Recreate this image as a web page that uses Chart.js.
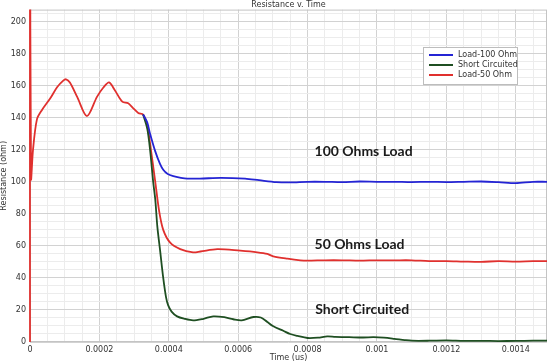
<!DOCTYPE html>
<html lang="en">
<head>
    <meta charset="UTF-8">
    <title>Resistance v. Time</title>
    <script src="https://cdn.jsdelivr.net/npm/chart.js"></script>
    <style>
        html, body { margin: 0; padding: 0; background: #fff; }
        #wrap { width: 551px; height: 364px; }
    </style>
</head>
<body>
    <div id="wrap"><canvas id="resChart" width="551" height="364"></canvas></div>

    <script>
        // Series (time in us, resistance in ohm)
        const redTime = [0, 0, 0.000003, 0.0000087, 0.00002, 0.000035, 0.000058, 0.000078, 0.000095, 0.000104, 0.000115,
            0.000136, 0.000164, 0.000193, 0.000212, 0.000228, 0.000245, 0.000266, 0.000283, 0.000297, 0.000312, 0.000326,
            0.000338, 0.000346, 0.000361, 0.000372, 0.000384, 0.000404, 0.000433, 0.00047, 0.000491, 0.00054, 0.000606,
            0.000655, 0.000684, 0.000701, 0.000742, 0.000779, 0.0008, 0.00085, 0.0009, 0.00095, 0.001, 0.00105, 0.0011,
            0.00115, 0.0012, 0.00125, 0.0013, 0.00135, 0.0014, 0.00145, 0.00149];
        const redOhm = [0, 300, 102, 120, 139, 145, 152, 159, 163, 164, 162,
            153, 141, 153, 159, 162, 157, 150, 149, 146, 143, 142,
            135, 124, 100, 82, 70, 62, 58, 56, 56.5, 58, 57,
            56, 55, 53.5, 52, 51, 50.8, 51, 51, 50.8, 51, 51, 51,
            50.5, 50.5, 50.2, 50, 50.5, 50.2, 50.5, 50.5];

        const blueTime = [0.000326, 0.000338, 0.000346, 0.000361, 0.000375, 0.000384, 0.000396, 0.000413, 0.000435,
            0.000453, 0.00049, 0.00055, 0.00062, 0.00066, 0.00071, 0.00075, 0.0008, 0.00085, 0.0009, 0.00095, 0.001,
            0.00105, 0.0011, 0.00115, 0.0012, 0.00125, 0.0013, 0.00135, 0.0014, 0.00145, 0.00149];
        const blueOhm = [142, 137, 130, 119, 111, 107.5, 105, 103.5, 102.5,
            102, 102, 102.5, 102, 101, 99.8, 99.6, 100, 100, 99.8, 100.2, 100,
            100, 99.8, 100, 99.8, 100, 100.2, 99.8, 99.2, 100, 100];

        const greenTime = [0.000326, 0.000338, 0.000346, 0.000355, 0.000361, 0.000367, 0.000375, 0.000384, 0.000392,
            0.000398, 0.000408, 0.000424, 0.000445, 0.00047, 0.0005, 0.000528, 0.00056, 0.000586, 0.00061, 0.000644,
            0.000665, 0.000684, 0.0007, 0.00073, 0.00075, 0.000771, 0.0008, 0.00083, 0.000857, 0.00088, 0.00092,
            0.00096, 0.00099, 0.00102, 0.00105, 0.00108, 0.0011, 0.00115, 0.0012, 0.00125, 0.0013, 0.00135, 0.0014,
            0.00145, 0.00149];
        const greenOhm = [142, 133, 120, 100, 89, 72, 57, 40, 28,
            23, 19, 16, 14.5, 13.5, 14.5, 16, 15.5, 14.2, 13.5, 15.6,
            15.3, 12.5, 10, 7, 5, 3.8, 2.5, 2.7, 3.5, 3.2, 3,
            2.8, 3, 2.7, 2, 1.2, 0.8, 0.8, 1, 0.7, 0.7, 0.6, 0.7,
            0.8, 0.8];

        const seriesNames = ['Load-100 Ohm', 'Short Circuited', 'Load-50 Ohm'];
        const notes = [
            { text: '100 Ohms Load', x: 0.00082, y: 119 },
            { text: '50 Ohms Load', x: 0.00082, y: 61 },
            { text: 'Short Circuited', x: 0.000822, y: 20.5 }
        ];

        const toPoints = (xs, ys) => xs.map((x, i) => ({ x: x, y: ys[i] }));

        // Plot frame under the lines
        const plotFrame = {
            id: 'plotFrame',
            beforeDatasetsDraw(chart) {
                const ctx = chart.ctx;
                const a = chart.chartArea;
                ctx.save();
                ctx.strokeStyle = '#c4c4c4';
                ctx.lineWidth = 1;
                ctx.strokeRect(a.left + 0.5, a.top + 0.5, a.right - a.left - 1, a.bottom - a.top - 1);
                ctx.restore();
            }
        };

        // Legend box drawn inside the plot, like the original
        const boxLegend = {
            id: 'boxLegend',
            afterDatasetsDraw(chart, args, opts) {
                const ctx = chart.ctx;
                ctx.save();
                ctx.fillStyle = '#fff';
                ctx.strokeStyle = '#bdbdbd';
                ctx.lineWidth = 1;
                ctx.fillRect(opts.x, opts.y, opts.w, opts.h);
                ctx.strokeRect(opts.x + 0.5, opts.y + 0.5, opts.w, opts.h);
                ctx.font = '8px "DejaVu Sans"';
                ctx.textBaseline = 'middle';
                chart.data.datasets.forEach((ds, i) => {
                    const y = opts.y + 8 + i * 10;
                    ctx.strokeStyle = ds.borderColor;
                    ctx.lineWidth = 2;
                    ctx.beginPath();
                    ctx.moveTo(opts.x + 6, y);
                    ctx.lineTo(opts.x + 30, y);
                    ctx.stroke();
                    ctx.fillStyle = '#333';
                    ctx.fillText(ds.label, opts.x + 35, y);
                });
                ctx.restore();
            }
        };

        // Bold text labels placed at data coordinates
        const noteLabels = {
            id: 'noteLabels',
            afterDatasetsDraw(chart, args, opts) {
                const ctx = chart.ctx;
                const xs = chart.scales.x, ys = chart.scales.y;
                ctx.save();
                ctx.font = 'bold 14px Lato';
                ctx.fillStyle = '#1a1a1a';
                ctx.textBaseline = 'middle';
                opts.items.forEach(n => {
                    ctx.fillText(n.text, xs.getPixelForValue(n.x), ys.getPixelForValue(n.y));
                });
                ctx.restore();
            }
        };

        const tickFont = { family: 'DejaVu Sans', size: 8 };

        new Chart(document.getElementById('resChart'), {
            type: 'line',
            data: {
                datasets: [
                    { label: seriesNames[0], data: toPoints(blueTime, blueOhm), borderColor: '#2424d4' },
                    { label: seriesNames[1], data: toPoints(greenTime, greenOhm), borderColor: '#1f4f22' },
                    { label: seriesNames[2], data: toPoints(redTime, redOhm), borderColor: '#e0302e',
                      clip: { left: 2, top: 0, right: 0, bottom: 2 } }
                ]
            },
            options: {
                responsive: false,
                animation: false,
                parsing: false,
                layout: { padding: { left: 0, right: 4, top: 0, bottom: 0 } },
                elements: {
                    point: { radius: 0 },
                    line: { borderWidth: 1.8, tension: 0.3, fill: false }
                },
                plugins: {
                    legend: { display: false },
                    tooltip: { enabled: false },
                    title: {
                        display: true,
                        text: 'Resistance v. Time',
                        fullSize: false,
                        color: '#333',
                        font: { family: 'DejaVu Sans', size: 8, weight: 'normal', lineHeight: 1.2 },
                        padding: { top: 0, bottom: 0 }
                    },
                    boxLegend: { x: 423, y: 47, w: 94, h: 37 },
                    noteLabels: { items: notes }
                },
                scales: {
                    x: {
                        type: 'linear',
                        min: 0,
                        max: 0.00149,
                        afterFit: s => { s.height = 22; },
                        border: { display: false },
                        grid: {
                            drawTicks: false,
                            color: c => (Math.round(c.tick.value / 0.00005) % 4 === 0) ? '#d2d2d2' : '#ececec'
                        },
                        ticks: {
                            stepSize: 0.00005,
                            includeBounds: false,
                            autoSkip: false,
                            maxRotation: 0,
                            padding: 3,
                            color: '#333',
                            font: tickFont,
                            callback: v => {
                                const n = Math.round(v / 0.00005);
                                return n % 4 === 0 ? String(+(n * 0.00005).toFixed(5)) : '';
                            }
                        },
                        title: {
                            display: true,
                            text: 'Time (us)',
                            color: '#333',
                            font: { family: 'DejaVu Sans', size: 8, lineHeight: 1 },
                            padding: { top: 0, bottom: 2 }
                        }
                    },
                    y: {
                        min: 0,
                        max: 207.5,
                        afterFit: s => { s.width = 30; },
                        border: { display: false },
                        grid: {
                            drawTicks: false,
                            color: c => (Math.round(c.tick.value) % 20 === 0) ? '#d2d2d2' : '#ececec'
                        },
                        ticks: {
                            stepSize: 5,
                            includeBounds: false,
                            autoSkip: false,
                            padding: 4,
                            color: '#333',
                            font: tickFont,
                            callback: v => (Math.round(v) % 20 === 0 ? String(Math.round(v)) : '')
                        },
                        title: {
                            display: true,
                            text: 'Resistance (ohm)',
                            color: '#333',
                            font: { family: 'DejaVu Sans', size: 8, lineHeight: 1 },
                            padding: { top: 0, bottom: 0 }
                        }
                    }
                }
            },
            plugins: [plotFrame, boxLegend, noteLabels]
        });
    </script>
</body>
</html>
